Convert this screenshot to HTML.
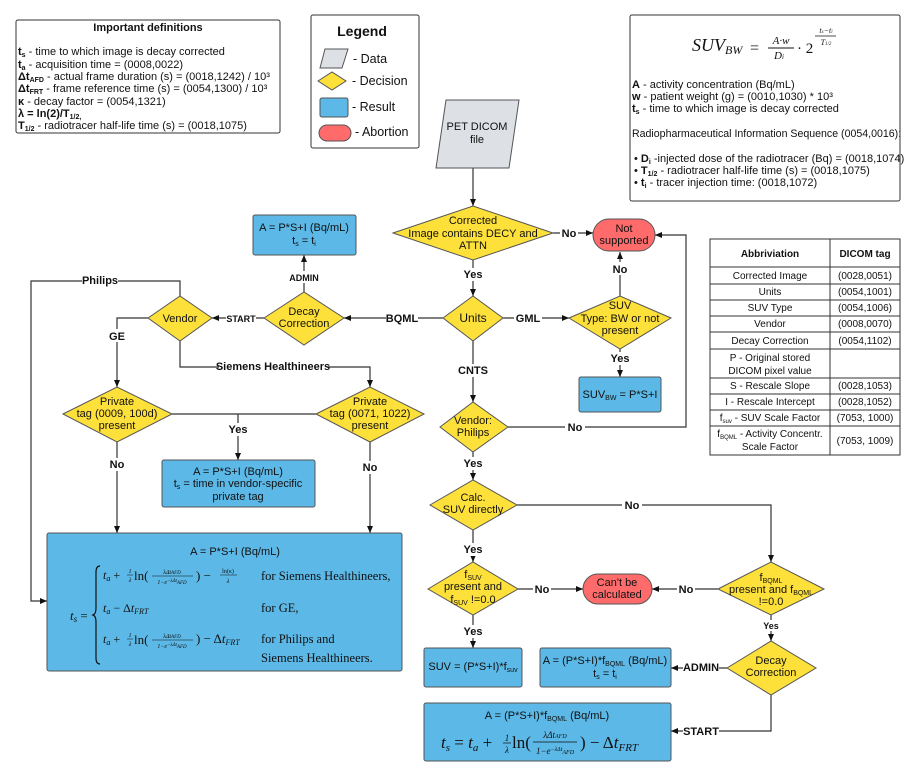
<!DOCTYPE html>
<html><head><meta charset="utf-8"><style>
html,body{margin:0;padding:0;background:#fff;}
svg{display:block;font-family:"Liberation Sans",sans-serif;font-size:11px;fill:#111;}
.b{font-weight:bold;}
.m{font-family:"Liberation Serif",serif;font-style:italic;}
.s{font-family:"Liberation Serif",serif;}
.l{stroke:#333;stroke-width:1.2;fill:none;}
.d{fill:#fde03a;stroke:#555;stroke-width:1;}
.r{fill:#5cb8e6;stroke:#555;stroke-width:1;}
.a{fill:#ff6b6b;stroke:#555;stroke-width:1;}
.c{text-anchor:middle;}
</style></head><body>
<svg width="915" height="777" viewBox="0 0 915 777" xmlns="http://www.w3.org/2000/svg">
<defs><marker id="ar" markerWidth="8" markerHeight="8" refX="7" refY="4" orient="auto" markerUnits="userSpaceOnUse"><path d="M0,1 L7,4 L0,7 z" fill="#111"/></marker></defs>

<!-- Definitions -->
<rect x="16" y="20" width="264" height="113" rx="2" fill="#fff" stroke="#333"/>
<text x="148" y="31" class="b c">Important definitions</text>
<text x="18" y="55"><tspan class="b">t<tspan font-size="7" dy="2">s</tspan></tspan><tspan dy="-2"> - time to which image is decay corrected</tspan></text>
<text x="18" y="68"><tspan class="b">t<tspan font-size="7" dy="2">a</tspan></tspan><tspan dy="-2"> - acquisition time = (0008,0022)</tspan></text>
<text x="18" y="80"><tspan class="b">Δt<tspan font-size="7" dy="2">AFD</tspan></tspan><tspan dy="-2"> - actual frame duration (s) = (0018,1242) / 10³</tspan></text>
<text x="18" y="92"><tspan class="b">Δt<tspan font-size="7" dy="2">FRT</tspan></tspan><tspan dy="-2"> - frame reference time (s) = (0054,1300) / 10³</tspan></text>
<text x="18" y="105"><tspan class="b">κ</tspan> - decay factor = (0054,1321)</text>
<text x="18" y="117" class="b">λ = ln(2)/T<tspan font-size="7" dy="2">1/2,</tspan></text>
<text x="18" y="129"><tspan class="b">T<tspan font-size="7" dy="2">1/2</tspan></tspan><tspan dy="-2"> - radiotracer half-life time (s) = (0018,1075)</tspan></text>

<!-- Legend -->
<rect x="311" y="15" width="108" height="133" rx="2" fill="#fff" stroke="#333"/>
<text x="362" y="36" class="b c" font-size="14">Legend</text>
<path d="M325,49 L348,49 L342,68 L320,68 z" fill="#dde0e5" stroke="#555"/>
<text x="353" y="63" font-size="12.5">- Data</text>
<path d="M318,81 L332,72 L346,81 L332,90 z" class="d"/>
<text x="352" y="85" font-size="12.5">- Decision</text>
<rect x="320" y="98" width="28" height="19" rx="2" class="r"/>
<text x="352" y="111" font-size="12.5">- Result</text>
<rect x="319" y="125" width="32" height="16" rx="8" class="a"/>
<text x="355" y="136" font-size="12.5">- Abortion</text>

<!-- SUV formula box -->
<rect x="630" y="15" width="270" height="186" rx="2" fill="#fff" stroke="#333"/>
<text x="692" y="51" class="m" font-size="18">SUV<tspan font-size="12" dy="3">BW</tspan></text>
<text x="750" y="53" class="s" font-size="16">=</text>
<text x="781" y="44" class="m c" font-size="11">A·w</text>
<line x1="768" y1="48" x2="794" y2="48" stroke="#111"/>
<text x="779" y="59" class="m c" font-size="11">D<tspan font-size="7">i</tspan></text>
<text x="797" y="53" class="s" font-size="15">· 2</text>
<text x="826" y="33" class="m c" font-size="8">t<tspan font-size="5">s</tspan>−t<tspan font-size="5">i</tspan></text>
<line x1="815" y1="36" x2="836" y2="36" stroke="#111" stroke-width=".7"/>
<text x="826" y="45" class="m c" font-size="8">T<tspan font-size="5">1/2</tspan></text>
<text x="632" y="88"><tspan class="b">A</tspan> - activity concentration (Bq/mL)</text>
<text x="632" y="100"><tspan class="b">w</tspan> - patient weight (g) = (0010,1030) * 10³</text>
<text x="632" y="112"><tspan class="b">t<tspan font-size="7" dy="2">s</tspan></tspan><tspan dy="-2"> - time to which image is decay corrected</tspan></text>
<text x="632" y="137" font-size="10.6">Radiopharmaceutical Information Sequence (0054,0016):</text>
<text x="634" y="162">• <tspan class="b">D<tspan font-size="7" dy="2">i</tspan></tspan><tspan dy="-2"> -injected dose of the radiotracer (Bq) = (0018,1074)</tspan></text>
<text x="634" y="174">• <tspan class="b">T<tspan font-size="7" dy="2">1/2</tspan></tspan><tspan dy="-2"> - radiotracer half-life time (s) = (0018,1075)</tspan></text>
<text x="634" y="186">• <tspan class="b">t<tspan font-size="7" dy="2">i</tspan></tspan><tspan dy="-2"> - tracer injection time: (0018,1072)</tspan></text>

<!-- Table -->
<g stroke="#333" fill="none">
<rect x="710" y="239" width="190" height="216"/>
<line x1="830" y1="239" x2="830" y2="455"/>
<line x1="710" y1="267" x2="900" y2="267"/>
<line x1="710" y1="284" x2="900" y2="284"/>
<line x1="710" y1="300" x2="900" y2="300"/>
<line x1="710" y1="316" x2="900" y2="316"/>
<line x1="710" y1="332" x2="900" y2="332"/>
<line x1="710" y1="349" x2="900" y2="349"/>
<line x1="710" y1="378" x2="900" y2="378"/>
<line x1="710" y1="394" x2="900" y2="394"/>
<line x1="710" y1="410" x2="900" y2="410"/>
<line x1="710" y1="426" x2="900" y2="426"/>
</g>
<g font-size="10">
<text x="770" y="257" class="b c">Abbriviation</text><text x="865" y="257" class="b c">DICOM tag</text>
<text x="770" y="279" class="c">Corrected Image</text><text x="865" y="279" class="c">(0028,0051)</text>
<text x="770" y="295" class="c">Units</text><text x="865" y="295" class="c">(0054,1001)</text>
<text x="770" y="311" class="c">SUV Type</text><text x="865" y="311" class="c">(0054,1006)</text>
<text x="770" y="327" class="c">Vendor</text><text x="865" y="327" class="c">(0008,0070)</text>
<text x="770" y="344" class="c">Decay Correction</text><text x="865" y="344" class="c">(0054,1102)</text>
<text x="770" y="361" class="c">P - Original stored</text>
<text x="770" y="374" class="c">DICOM pixel value</text>
<text x="770" y="389" class="c">S - Rescale Slope</text><text x="865" y="389" class="c">(0028,1053)</text>
<text x="770" y="405" class="c">I - Rescale Intercept</text><text x="865" y="405" class="c">(0028,1052)</text>
<text x="770" y="421" class="c">f<tspan font-size="6" dy="2">suv</tspan><tspan dy="-2"> - SUV Scale Factor</tspan></text><text x="865" y="421" class="c">(7053, 1000)</text>
<text x="770" y="437" class="c">f<tspan font-size="6" dy="2">BQML</tspan><tspan dy="-2"> - Activity Concentr.</tspan></text>
<text x="770" y="450" class="c">Scale Factor</text><text x="865" y="444" class="c">(7053, 1009)</text>
</g>

<!-- Connectors -->
<g class="l">
<line x1="473" y1="168" x2="473" y2="206" marker-end="url(#ar)"/>
<line x1="553" y1="233" x2="593" y2="233" marker-end="url(#ar)"/>
<line x1="473" y1="260" x2="473" y2="296" marker-end="url(#ar)"/>
<line x1="503" y1="318" x2="569" y2="318" marker-end="url(#ar)"/>
<line x1="620" y1="296" x2="620" y2="252" marker-end="url(#ar)"/>
<line x1="620" y1="349" x2="620" y2="377" marker-end="url(#ar)"/>
<line x1="473" y1="341" x2="473" y2="402" marker-end="url(#ar)"/>
<polyline points="508,427 686,427 686,235 655,235" marker-end="url(#ar)"/>
<line x1="473" y1="452" x2="473" y2="480" marker-end="url(#ar)"/>
<polyline points="517,505 771,505 771,562" marker-end="url(#ar)"/>
<line x1="473" y1="530" x2="473" y2="562" marker-end="url(#ar)"/>
<line x1="518" y1="589" x2="583" y2="589" marker-end="url(#ar)"/>
<line x1="718" y1="589" x2="652" y2="589" marker-end="url(#ar)"/>
<line x1="473" y1="615" x2="473" y2="648" marker-end="url(#ar)"/>
<line x1="771" y1="615" x2="771" y2="641" marker-end="url(#ar)"/>
<line x1="727" y1="668" x2="671" y2="668" marker-end="url(#ar)"/>
<polyline points="771,695 771,731 671,731" marker-end="url(#ar)"/>
<line x1="443" y1="318" x2="344" y2="318" marker-end="url(#ar)"/>
<line x1="264" y1="318" x2="212" y2="318" marker-end="url(#ar)"/>
<line x1="304" y1="292" x2="304" y2="255" marker-end="url(#ar)"/>
<polyline points="180,296 180,281 31,281 31,601 47,601" marker-end="url(#ar)"/>
<polyline points="148,318 117,318 117,387" marker-end="url(#ar)"/>
<polyline points="180,341 180,367 370,367 370,387" marker-end="url(#ar)"/>
<line x1="172" y1="414" x2="316" y2="414"/>
<line x1="238" y1="414" x2="238" y2="460" marker-end="url(#ar)"/>
<line x1="117" y1="442" x2="117" y2="533" marker-end="url(#ar)"/>
<line x1="370" y1="442" x2="370" y2="533" marker-end="url(#ar)"/>
</g>

<!-- Labels on connectors -->
<g class="b">
<rect x="560" y="226" width="18" height="13" fill="#fff"/><text x="569" y="237" class="b c">No</text>
<rect x="460" y="268" width="26" height="13" fill="#fff"/><text x="473" y="278" class="b c">Yes</text>
<rect x="514" y="311" width="28" height="13" fill="#fff"/><text x="528" y="322" class="b c">GML</text>
<rect x="610" y="262" width="20" height="13" fill="#fff"/><text x="620" y="273" class="b c">No</text>
<rect x="607" y="352" width="26" height="13" fill="#fff"/><text x="620" y="362" class="b c">Yes</text>
<rect x="458" y="364" width="30" height="13" fill="#fff"/><text x="473" y="374" class="b c">CNTS</text>
<rect x="565" y="420" width="20" height="13" fill="#fff"/><text x="575" y="431" class="b c">No</text>
<rect x="460" y="457" width="26" height="13" fill="#fff"/><text x="473" y="467" class="b c">Yes</text>
<rect x="622" y="498" width="20" height="13" fill="#fff"/><text x="632" y="509" class="b c">No</text>
<rect x="460" y="543" width="26" height="13" fill="#fff"/><text x="473" y="553" class="b c">Yes</text>
<rect x="533" y="582" width="18" height="13" fill="#fff"/><text x="542" y="593" class="b c">No</text>
<rect x="677" y="582" width="18" height="13" fill="#fff"/><text x="686" y="593" class="b c">No</text>
<rect x="460" y="625" width="26" height="13" fill="#fff"/><text x="473" y="635" class="b c">Yes</text>
<rect x="762" y="620" width="20" height="11" fill="#fff"/><text x="771" y="629" class="b c" font-size="9">Yes</text>
<rect x="683" y="661" width="36" height="13" fill="#fff"/><text x="701" y="671" class="b c">ADMIN</text>
<rect x="683" y="724" width="36" height="13" fill="#fff"/><text x="701" y="735" class="b c">START</text>
<rect x="386" y="311" width="32" height="13" fill="#fff"/><text x="402" y="322" class="b c">BQML</text>
<rect x="226" y="312" width="30" height="12" fill="#fff"/><text x="241" y="322" class="b c" font-size="9">START</text>
<rect x="289" y="271" width="30" height="12" fill="#fff"/><text x="304" y="281" class="b c" font-size="9">ADMIN</text>
<rect x="82" y="274" width="36" height="13" fill="#fff"/><text x="100" y="284" class="b c">Philips</text>
<rect x="108" y="329" width="18" height="13" fill="#fff"/><text x="117" y="340" class="b c">GE</text>
<rect x="219" y="360" width="108" height="13" fill="#fff"/><text x="273" y="370" class="b c">Siemens Healthineers</text>
<rect x="226" y="423" width="24" height="13" fill="#fff"/><text x="238" y="433" class="b c">Yes</text>
<rect x="108" y="458" width="18" height="13" fill="#fff"/><text x="117" y="468" class="b c">No</text>
<rect x="361" y="461" width="18" height="13" fill="#fff"/><text x="370" y="471" class="b c">No</text>
</g>

<!-- Shapes -->
<path d="M446,100 L519,100 L509,168 L436,168 z" fill="#dde0e5" stroke="#555"/>
<text x="477" y="130" class="c">PET DICOM</text><text x="477" y="143" class="c">file</text>

<path d="M393,233 L473,206 L553,233 L473,260 z" class="d"/>
<text x="473" y="224" class="c">Corrected</text><text x="473" y="237" class="c">Image contains DECY and</text><text x="473" y="249" class="c">ATTN</text>

<rect x="593" y="219" width="62" height="32" rx="16" class="a"/>
<text x="624" y="232" class="c">Not</text><text x="624" y="244" class="c">supported</text>

<path d="M443,318 L473,296 L503,318 L473,341 z" class="d"/>
<text x="473" y="322" class="c" font-size="12">Units</text>

<path d="M569,318 L620,296 L671,318 L620,349 z" class="d"/>
<text x="620" y="309" class="c">SUV</text><text x="620" y="322" class="c">Type: BW or not</text><text x="620" y="334" class="c">present</text>

<rect x="579" y="377" width="82" height="35" rx="2" class="r"/>
<text x="620" y="398" class="c">SUV<tspan font-size="7" dy="2">BW</tspan><tspan dy="-2"> = P*S+I</tspan></text>

<path d="M440,427 L473,402 L508,427 L473,452 z" class="d"/>
<text x="473" y="424" class="c">Vendor:</text><text x="473" y="436" class="c">Philips</text>

<path d="M430,505 L473,480 L517,505 L473,530 z" class="d"/>
<text x="473" y="501" class="c">Calc.</text><text x="473" y="513" class="c">SUV directly</text>

<path d="M428,589 L473,562 L518,589 L473,615 z" class="d"/>
<text x="473" y="578" class="c">f<tspan font-size="7" dy="2">SUV</tspan></text>
<text x="473" y="590" class="c">present and</text>
<text x="473" y="603" class="c">f<tspan font-size="7" dy="2">SUV</tspan><tspan dy="-2"> !=0.0</tspan></text>

<rect x="583" y="574" width="69" height="30" rx="15" class="a"/>
<text x="617" y="586" class="c">Can't be</text><text x="617" y="598" class="c">calculated</text>

<path d="M718,589 L771,562 L824,589 L771,615 z" class="d"/>
<text x="771" y="581" class="c">f<tspan font-size="7" dy="2">BQML</tspan></text>
<text x="771" y="593" class="c">present and f<tspan font-size="7" dy="2">BQML</tspan></text>
<text x="771" y="605" class="c">!=0.0</text>

<path d="M727,668 L771,641 L816,668 L771,695 z" class="d"/>
<text x="771" y="664" class="c">Decay</text><text x="771" y="676" class="c">Correction</text>

<rect x="424" y="648" width="98" height="39" rx="2" class="r"/>
<text x="473" y="670" class="c">SUV = (P*S+I)*f<tspan font-size="7" dy="2">suv</tspan></text>

<rect x="540" y="648" width="131" height="39" rx="2" class="r"/>
<text x="605" y="664" class="c">A = (P*S+I)*f<tspan font-size="7" dy="2">BQML</tspan><tspan dy="-2"> (Bq/mL)</tspan></text>
<text x="605" y="677" class="c">t<tspan font-size="7" dy="2">s</tspan><tspan dy="-2"> = t</tspan><tspan font-size="7" dy="2">i</tspan></text>

<rect x="424" y="703" width="247" height="58" rx="2" class="r"/>
<text x="547" y="719" class="c">A = (P*S+I)*f<tspan font-size="7" dy="2">BQML</tspan><tspan dy="-2"> (Bq/mL)</tspan></text>
<text x="441" y="748" class="m" font-size="17">t<tspan font-size="11" dy="3">s</tspan><tspan dy="-3" class="s" font-style="normal"> = </tspan>t<tspan font-size="11" dy="3">a</tspan><tspan dy="-3" class="s" font-style="normal"> + </tspan></text>
<text x="507" y="741" class="m c" font-size="9">1</text><line x1="503" y1="743" x2="511" y2="743" stroke="#111" stroke-width=".7"/><text x="507" y="753" class="m c" font-size="9">λ</text>
<text x="512" y="748" class="s" font-size="17">ln(</text>
<text x="555" y="738" class="m c" font-size="9">λΔt<tspan font-size="6">AFD</tspan></text>
<line x1="533" y1="742" x2="577" y2="742" stroke="#111" stroke-width=".7"/>
<text x="555" y="754" class="m c" font-size="9">1−e<tspan font-size="6" dy="-3">−λΔt</tspan><tspan font-size="6" dy="3">AFD</tspan></text>
<text x="580" y="748" class="s" font-size="17">) − Δ<tspan class="m">t</tspan><tspan class="m" font-size="11" dy="3">FRT</tspan></text>

<!-- Left side -->
<path d="M264,318 L304,292 L344,318 L304,345 z" class="d"/>
<text x="304" y="315" class="c">Decay</text><text x="304" y="327" class="c">Correction</text>

<rect x="253" y="215" width="103" height="40" rx="2" class="r"/>
<text x="304" y="231" class="c">A = P*S+I (Bq/mL)</text>
<text x="304" y="244" class="c">t<tspan font-size="7" dy="2">s</tspan><tspan dy="-2"> = t</tspan><tspan font-size="7" dy="2">i</tspan></text>

<path d="M148,318 L180,296 L212,318 L180,341 z" class="d"/>
<text x="180" y="322" class="c">Vendor</text>

<path d="M63,414 L117,387 L172,414 L117,442 z" class="d"/>
<text x="117" y="405" class="c">Private</text><text x="117" y="417" class="c">tag (0009, 100d)</text><text x="117" y="429" class="c">present</text>

<path d="M316,414 L370,387 L424,414 L370,442 z" class="d"/>
<text x="370" y="405" class="c">Private</text><text x="370" y="417" class="c">tag (0071, 1022)</text><text x="370" y="429" class="c">present</text>

<rect x="162" y="460" width="153" height="47" rx="2" class="r"/>
<text x="238" y="475" class="c">A = P*S+I (Bq/mL)</text>
<text x="238" y="487" class="c">t<tspan font-size="7" dy="2">s</tspan><tspan dy="-2"> = time in vendor-specific</tspan></text>
<text x="238" y="500" class="c">private tag</text>

<rect x="47" y="533" width="355" height="138" rx="2" class="r"/>
<text x="235" y="555" class="c">A = P*S+I (Bq/mL)</text>
<text x="70" y="620" class="m" font-size="13">t<tspan font-size="9" dy="2">s</tspan><tspan dy="-2" class="s" font-style="normal"> =</tspan></text>
<path d="M100,566 Q96,566 96,572 L96,608 Q96,614 93,615 Q96,616 96,622 L96,658 Q96,664 100,664" stroke="#111" stroke-width="1.2" fill="none"/>
<text x="103" y="579" class="m" font-size="12">t<tspan font-size="8" dy="2">a</tspan><tspan dy="-2" class="s" font-style="normal"> + </tspan></text>
<text x="130" y="573" class="m c" font-size="6">1</text><line x1="127" y1="575" x2="133" y2="575" stroke="#111" stroke-width=".5"/><text x="130" y="582" class="m c" font-size="6">λ</text>
<text x="134" y="580" class="s" font-size="13">ln(</text>
<text x="172" y="574" class="m c" font-size="6">λΔt<tspan font-size="5">AFD</tspan></text>
<line x1="152" y1="576" x2="193" y2="576" stroke="#111" stroke-width=".5"/>
<text x="172" y="584" class="m c" font-size="6">1−e<tspan font-size="5" dy="-2">−λΔt</tspan><tspan font-size="5" dy="2">AFD</tspan></text>
<text x="196" y="580" class="s" font-size="13">) −</text>
<text x="228" y="573" class="s c" font-size="6">ln(κ)</text><line x1="220" y1="575" x2="237" y2="575" stroke="#111" stroke-width=".5"/><text x="228" y="583" class="m c" font-size="6">λ</text>
<text x="261" y="580" class="s" font-size="12.5">for Siemens Healthineers,</text>
<text x="103" y="612" class="m" font-size="12">t<tspan font-size="8" dy="2">a</tspan><tspan dy="-2" class="s" font-style="normal"> − Δ</tspan>t<tspan font-size="8" dy="2">FRT</tspan></text>
<text x="261" y="612" class="s" font-size="12.5">for GE,</text>
<text x="103" y="643" class="m" font-size="12">t<tspan font-size="8" dy="2">a</tspan><tspan dy="-2" class="s" font-style="normal"> + </tspan></text>
<text x="130" y="637" class="m c" font-size="6">1</text><line x1="127" y1="639" x2="133" y2="639" stroke="#111" stroke-width=".5"/><text x="130" y="646" class="m c" font-size="6">λ</text>
<text x="134" y="644" class="s" font-size="13">ln(</text>
<text x="172" y="638" class="m c" font-size="6">λΔt<tspan font-size="5">AFD</tspan></text>
<line x1="152" y1="640" x2="193" y2="640" stroke="#111" stroke-width=".5"/>
<text x="172" y="648" class="m c" font-size="6">1−e<tspan font-size="5" dy="-2">−λΔt</tspan><tspan font-size="5" dy="2">AFD</tspan></text>
<text x="196" y="643" class="s" font-size="13">) − Δ<tspan class="m">t</tspan><tspan class="m" font-size="8" dy="2">FRT</tspan></text>
<text x="261" y="643" class="s" font-size="12.5">for Philips and</text>
<text x="261" y="662" class="s" font-size="12.5">Siemens Healthineers.</text>
</svg>
</body></html>
